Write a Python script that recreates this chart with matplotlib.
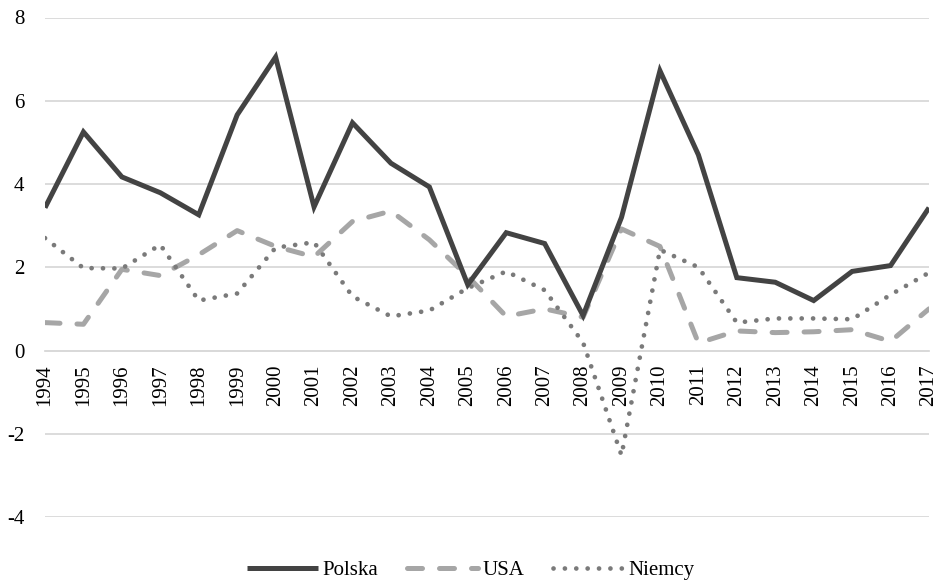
import numpy as np
import matplotlib
matplotlib.use("Agg")
import matplotlib.pyplot as plt

years = list(range(1994, 2018))
polska = [3.43, 5.25, 4.17, 3.79, 3.26, 5.66, 7.05, 3.45, 5.47, 4.50, 3.93, 1.58,
          2.83, 2.57, 0.84, 3.20, 6.72, 4.70, 1.75, 1.64, 1.20, 1.90, 2.04, 3.43]
usa = [0.67, 0.63, 1.95, 1.80, 2.30, 2.88, 2.50, 2.25, 3.10, 3.35, 2.66, 1.78,
       0.82, 1.00, 0.80, 2.92, 2.50, 0.18, 0.47, 0.43, 0.45, 0.50, 0.22, 1.00]
niemcy = [2.70, 1.98, 1.97, 2.54, 1.20, 1.37, 2.47, 2.60, 1.30, 0.82, 0.96, 1.50,
          1.90, 1.45, 0.19, -2.52, 2.42, 2.00, 0.67, 0.77, 0.77, 0.75, 1.34, 1.87]
yticks = [-4, -2, 0, 2, 4, 6, 8]

plt.rcParams['font.family'] = ['Liberation Serif', 'DejaVu Serif']

fig = plt.figure(figsize=(9.42, 5.82), dpi=100)
ax = fig.add_axes([45 / 942, 65 / 582, 884 / 942, 499.5 / 582])

x = np.arange(len(years))
ax.plot(x, polska, color='#434343', lw=3.6, solid_joinstyle='miter',
        solid_capstyle='butt', label='Polska', zorder=4)
ax.plot(x, usa, color='#a6a6a6', lw=3.6, linestyle=(0, (3.0, 3.4)),
        dash_capstyle='round', label='USA', zorder=3)
# dotted line, round dots
ax.plot(x, niemcy, color='#7a7a7a', lw=3.4, linestyle=(0, (0.01, 2.4)),
        dash_capstyle='round', label='Niemcy', zorder=3)

ax.set_xlim(0, len(years) - 1)
ax.set_ylim(-4, 8)
ax.set_yticks(yticks)
ax.set_yticklabels([str(v) for v in yticks], fontsize=15)
ax.grid(axis='y', color='#d9d9d9', lw=1.3)
ax.set_axisbelow(True)

for s in ['top', 'right', 'left']:
    ax.spines[s].set_visible(False)
ax.spines['bottom'].set_position(('data', 0))
ax.spines['bottom'].set_color('#d9d9d9')
ax.spines['bottom'].set_linewidth(1.3)
ax.spines['bottom'].set_zorder(0)

ax.set_xticks(x)
ax.set_xticklabels([str(y) for y in years], rotation=90, fontsize=15)
ax.tick_params(axis='x', length=0, pad=10)
ax.tick_params(axis='y', length=0, pad=15)

leg = fig.legend(loc='center', bbox_to_anchor=(0.5, 12 / 582), ncol=3,
                 frameon=False, fontsize=15, handlelength=3.4,
                 handletextpad=0.2, columnspacing=1.4)

fig.savefig('out.png', dpi=100)
